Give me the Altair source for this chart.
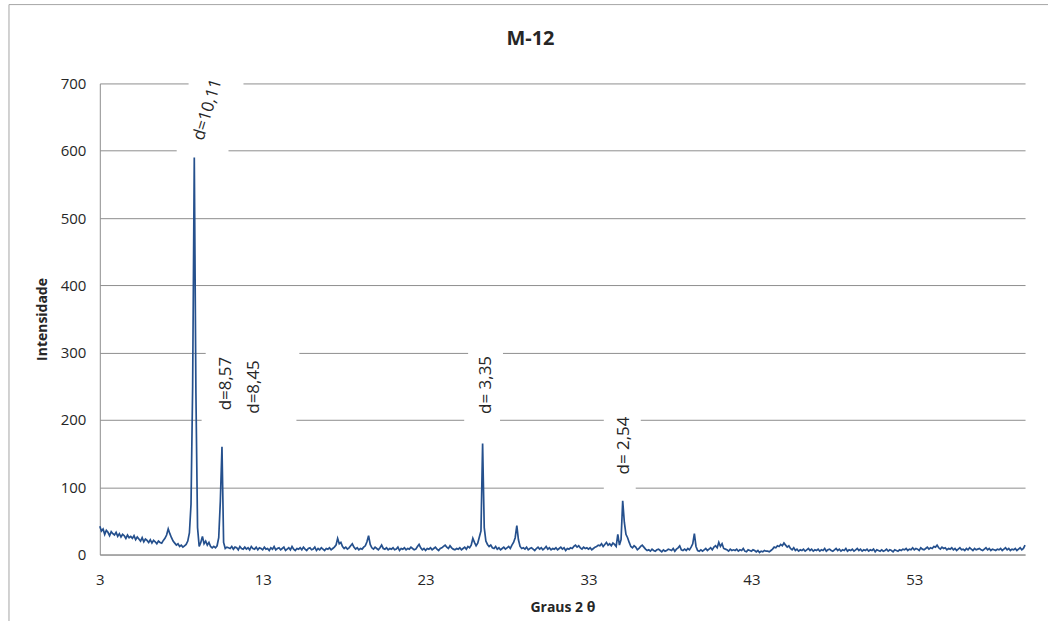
import altair as alt
import pandas as pd

# ---- scan settings (2-theta grid of the measurement) ----
scan_start = 3.0
scan_step = 0.1

# ---- intensity, 10 degrees per array ----
intensity_03_13 = [
    42, 35, 38, 30, 36, 33, 28, 34, 31, 29,
    33, 27, 31, 26, 30, 28, 24, 29, 25, 27,
    24, 28, 22, 26, 23, 20, 25, 19, 23, 21,
    18, 22, 17, 21, 19, 16, 20, 18, 17, 21,
    24, 29, 38, 31, 25, 20, 17, 14, 16, 12,
    14, 11, 13, 15, 20, 32, 75, 250, 590, 240,
    40, 12, 18, 27, 16, 20, 14, 18, 12, 10,
    12, 10, 13, 25, 80, 160, 18, 9, 11, 10,
    9, 12, 8, 11, 10, 7, 12, 9, 8, 11,
    8, 10, 7, 12, 9, 8, 11, 7, 10, 9,
]
intensity_13_23 = [
    7, 11, 8, 9, 6, 10, 8, 12, 7, 9,
    10, 7, 9, 11, 6, 8, 10, 7, 12, 8,
    6, 9, 8, 10, 7, 11, 8, 6, 9, 10,
    7, 8, 11, 6, 9, 7, 10, 8, 6, 9,
    8, 10, 7, 9, 11, 14, 24, 16, 18, 12,
    9, 11, 8, 10, 13, 16, 11, 8, 10, 7,
    9, 8, 11, 13, 19, 28, 15, 10, 8, 11,
    9, 7, 10, 14, 9, 8, 10, 7, 9, 8,
    10, 7, 8, 11, 6, 9, 8, 10, 7, 9,
    8, 11, 9, 7, 8, 12, 15, 10, 7, 9,
]
intensity_23_33 = [
    6, 9, 8, 10, 7, 9, 11, 8, 6, 9,
    10, 12, 14, 11, 9, 13, 10, 8, 7, 9,
    8, 10, 7, 9, 11, 8, 12, 10, 14, 24,
    18, 13, 17, 26, 35, 165, 40, 20, 15, 12,
    14, 10, 9, 12, 8, 10, 7, 9, 11, 8,
    10, 12, 9, 14, 18, 25, 43, 22, 12, 9,
    10, 8, 11, 7, 9, 10, 8, 6, 9, 11,
    8, 10, 7, 9, 12, 8, 10, 7, 9, 8,
    10, 7, 9, 11, 8, 10, 6, 9, 8, 10,
    9, 12, 14, 11, 13, 10, 8, 11, 9, 10,
]
intensity_33_43 = [
    8, 10, 7, 9, 11, 12, 14, 13, 16, 12,
    15, 18, 14, 16, 13, 17, 15, 12, 30, 14,
    22, 80, 48, 30, 25, 18, 12, 10, 13, 11,
    7, 9, 12, 14, 11, 8, 6, 7, 5, 8,
    6, 5, 7, 8, 6, 4, 7, 5, 6, 8,
    7, 6, 9, 5, 8, 10, 13, 7, 6, 8,
    6, 9, 7, 11, 16, 31, 12, 6, 5, 7,
    5, 7, 9, 6, 8, 10, 7, 11, 13, 10,
    18, 12, 16, 9, 8, 7, 5, 8, 6, 7,
    6, 8, 5, 7, 6, 9, 5, 4, 7, 6,
]
intensity_43_53 = [
    5, 7, 6, 4, 6, 3, 5, 4, 6, 5,
    5, 4, 6, 8, 11, 10, 13, 12, 15, 13,
    17, 14, 11, 13, 9, 7, 10, 6, 8, 5,
    7, 6, 8, 5, 7, 9, 6, 8, 5, 7,
    6, 8, 5, 7, 6, 9, 5, 7, 8, 6,
    5, 7, 9, 6, 8, 5, 7, 6, 9, 5,
    7, 6, 8, 5, 7, 9, 6, 8, 5, 7,
    6, 8, 5, 7, 6, 8, 4, 7, 6, 5,
    7, 5, 6, 8, 5, 7, 6, 4, 7, 6,
    5, 7, 6, 8, 7, 9, 6, 8, 7, 10,
]
intensity_53_60 = [
    7, 9, 8, 6, 10, 8, 7, 9, 11, 8,
    10, 9, 12, 11, 14, 10, 8, 11, 9, 10,
    7, 9, 8, 10, 7, 9, 6, 8, 10, 7,
    8, 6, 9, 7, 10, 8, 6, 9, 7, 8,
    9, 7, 6, 8, 10, 7, 9, 6, 8, 7,
    6, 8, 7, 9, 6, 8, 10, 7, 9, 6,
    8, 7, 9, 6, 8, 10, 7, 9, 14,
]

# ---- peak annotations ----
label_text = ["d=10,11", "d=8,57", "d=8,45", "d= 3,35", "d= 2,54"]
label_x = [9.62, 10.72, 12.44, 26.7, 35.17]
label_y = [661, 254, 249, 252, 162]
label_angle = [287, 270, 270, 270, 270]

# white label boxes that interrupt the gridlines (gridline value, from, to in degrees)
gap_grid = [700, 600, 300, 200, 300, 200, 200, 100]
gap_from = [8.45, 7.72, 9.50, 9.25, 25.61, 25.37, 33.94, 33.94]
gap_to = [11.82, 10.90, 15.25, 15.07, 27.75, 27.57, 36.21, 35.90]

x_ticks = [3, 13, 23, 33, 43, 53]

intensity = (intensity_03_13 + intensity_13_23 + intensity_23_33
             + intensity_33_43 + intensity_43_53 + intensity_53_60)
two_theta = [round(scan_start + scan_step * i, 1) for i in range(len(intensity))]
scan = pd.DataFrame({"two_theta": two_theta, "intensity": intensity})
labels = pd.DataFrame({"text": label_text, "x": label_x, "y": label_y, "angle": label_angle})
gaps = pd.DataFrame({"g": gap_grid, "x1": gap_from, "x2": gap_to})
gaps["y1"] = gaps["g"] - 4
gaps["y2"] = gaps["g"] + 4

FONT = "Open Sans"
GRID = "#8E8E8E"

x_scale = alt.Scale(domain=[3, 59.8], nice=False, zero=False)
y_scale = alt.Scale(domain=[0, 700], nice=False)

line = alt.Chart(scan).mark_line(color="#25508D", strokeWidth=1.7).encode(
    x=alt.X("two_theta:Q", scale=x_scale,
            axis=alt.Axis(title="Graus 2 θ", values=x_ticks, grid=False, ticks=False,
                          labelFlush=False,
                          domainColor=GRID, labelFont=FONT, labelFontSize=15,
                          labelColor="#262626", labelPadding=18,
                          titleFont=FONT, titleFontSize=14, titleFontWeight="bold",
                          titleColor="#262626", titlePadding=13)),
    y=alt.Y("intensity:Q", scale=y_scale,
            axis=alt.Axis(title="Intensidade", values=[0, 100, 200, 300, 400, 500, 600, 700],
                          grid=True, gridColor=GRID, gridWidth=1, ticks=False,
                          labelFlush=False,
                          domainColor=GRID, labelFont=FONT, labelFontSize=15,
                          labelColor="#262626", labelPadding=14,
                          titleFont=FONT, titleFontSize=14, titleFontWeight="bold",
                          titleColor="#262626", titlePadding=11)),
)

boxes = alt.Chart(gaps).mark_rect(color="white", opacity=1).encode(
    x=alt.X("x1:Q", scale=x_scale), x2="x2:Q",
    y=alt.Y("y1:Q", scale=y_scale), y2="y2:Q",
)

texts = alt.Chart(labels).mark_text(
    font=FONT, fontSize=17, color="#262626", align="center", baseline="middle"
).encode(
    x=alt.X("x:Q", scale=x_scale),
    y=alt.Y("y:Q", scale=y_scale),
    text="text:N",
    angle=alt.Angle("angle:Q", scale=None),
)

# chart-area border (left and top edges)
border_left = alt.Chart(pd.DataFrame({"k": [0]})).mark_rule(color="#A6A6A6", strokeWidth=1).encode(
    x=alt.value(-91), y=alt.value(-79), y2=alt.value(540)
)
border_top = alt.Chart(pd.DataFrame({"k": [0]})).mark_rule(color="#A6A6A6", strokeWidth=1).encode(
    x=alt.value(-91), x2=alt.value(950), y=alt.value(-79)
)

chart = alt.layer(boxes, line, texts, border_left, border_top).properties(
    width=927, height=472,
    title=alt.TitleParams("M-12", font=FONT, fontSize=20, fontWeight="bold",
                          color="#262626", anchor="middle", offset=-45, dx=-32),
    padding={"left": 8, "top": 3, "right": 0, "bottom": 0},
    background="white",
).configure_view(stroke=None)

chart.save("out.html", embed_options={"renderer": "svg", "actions": False})
